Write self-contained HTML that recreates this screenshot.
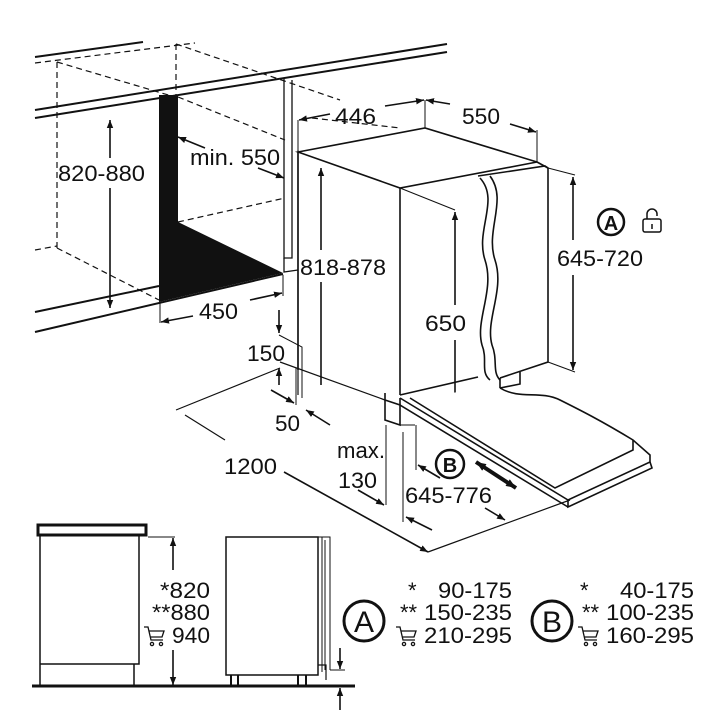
<!DOCTYPE html>
<html><head><meta charset="utf-8"><style>
html,body{margin:0;padding:0;background:#fff;width:720px;height:720px;overflow:hidden}
svg{display:block}
text{font-family:"Liberation Sans",sans-serif;fill:#111}
</style></head><body>
<svg width="720" height="720" viewBox="0 0 720 720" xmlns="http://www.w3.org/2000/svg">
<defs>
<marker id="a" viewBox="0 0 10 10" refX="10" refY="5" markerWidth="8" markerHeight="8" orient="auto-start-reverse" markerUnits="userSpaceOnUse"><path d="M0,1 L10,5 L0,9 z" fill="#111"/></marker>
<marker id="b" viewBox="0 0 10 10" refX="10" refY="5" markerWidth="10" markerHeight="10" orient="auto-start-reverse" markerUnits="userSpaceOnUse"><path d="M0,1 L10,5 L0,9 z" fill="#111"/></marker>
</defs>
<g stroke="#111" fill="none" stroke-width="1.6">
<line x1="35" y1="57" x2="143" y2="42" stroke-width="2"/>
<line x1="35" y1="110" x2="447" y2="44" stroke-width="2"/>
<line x1="35" y1="118" x2="447" y2="52" stroke-width="2"/>
<line x1="35" y1="312" x2="159" y2="286" stroke-width="2"/>
<line x1="35" y1="332" x2="283" y2="274" stroke-width="2"/>
<g stroke-dasharray="6,4" stroke-width="1.2">
<line x1="35" y1="63" x2="195" y2="43"/>
<line x1="57" y1="62" x2="57" y2="248"/>
<line x1="35" y1="250" x2="57" y2="246"/>
<line x1="57" y1="62" x2="175" y2="97"/>
<line x1="57" y1="248" x2="159" y2="300"/>
<line x1="176" y1="44" x2="176" y2="95"/>
<line x1="176" y1="44" x2="340" y2="100"/>
<line x1="178" y1="97" x2="285" y2="140"/>
<line x1="178" y1="222" x2="285" y2="198"/>
<line x1="312" y1="118" x2="400" y2="128"/>
</g>
<path d="M284,78 L284,258 L292,258 L292,80" stroke-width="1.3"/>
<path d="M284,258 L284,272 L298,270" stroke-width="1.3"/>
<line x1="110" y1="120" x2="110" y2="158" marker-start="url(#a)"/>
<line x1="110" y1="188" x2="110" y2="308" marker-end="url(#a)"/>
<line x1="178" y1="137" x2="205" y2="148" marker-start="url(#a)"/>
<line x1="258" y1="168" x2="284" y2="178" marker-end="url(#a)"/>
<path d="M160,302 L160,323 M283,275 L283,296" stroke-width="1"/>
<line x1="193" y1="316" x2="161" y2="322" marker-end="url(#a)"/>
<line x1="250" y1="300" x2="282" y2="293" marker-end="url(#a)"/>
<path d="M298,150 L298,395" stroke-width="1.2"/>
<line x1="321" y1="250" x2="321" y2="168" marker-end="url(#a)"/>
<line x1="321" y1="282" x2="321" y2="385" />
<line x1="298" y1="120" x2="298" y2="150" stroke-width="1"/>
<line x1="425" y1="100" x2="425" y2="128" stroke-width="1"/>
<line x1="537" y1="130" x2="537" y2="162" stroke-width="1"/>
<line x1="330" y1="114" x2="299" y2="120" marker-end="url(#a)"/>
<line x1="385" y1="106" x2="424" y2="100" marker-end="url(#a)"/>
<line x1="450" y1="104" x2="426" y2="100" marker-end="url(#a)"/>
<line x1="510" y1="124" x2="536" y2="132" marker-end="url(#a)"/>
<path d="M298,152 L425,128 L537,162 L400,188 Z" fill="#fff"/>
<path d="M400,188 L400,395"/>
<path d="M298,152 L298,370"/>
<path d="M400,395 L478,377"/>
<path d="M478,176 L545,166 L548,168 L548,362 L500,378"/>
<path d="M537,162 L548,168"/>
<path d="M480,178 C500,200 475,230 485,260 C495,290 475,320 482,345 C488,360 480,372 490,380" />
<path d="M490,176 C508,200 485,230 495,260 C505,290 485,320 492,345 C498,360 492,372 500,380" />
<path d="M500,378 L500,388 L520,384 L520,372"/>
<path d="M400,188 L455,210" stroke-width="1"/>
<line x1="455" y1="305" x2="455" y2="212" marker-end="url(#a)"/>
<line x1="455" y1="340" x2="455" y2="420" marker-end="url(#a)"/>
<path d="M548,168 L575,175 M548,362 L575,372" stroke-width="1"/>
<line x1="573" y1="240" x2="573" y2="177" marker-end="url(#a)"/>
<line x1="573" y1="275" x2="573" y2="370" marker-end="url(#a)"/>
<path d="M400,398 L568,500 L650,462 L650,455 L633,440 C600,420 580,410 560,400 C540,390 520,400 500,388" fill="#fff"/>
<path d="M400,398 L400,405 L568,507"/>
<path d="M568,500 L568,507 L652,468 L650,462"/>
<path d="M410,398 L555,488 L633,450 L633,440"/>
<path d="M385,393 L385,420 L400,425 L400,405 L385,400" fill="#fff"/>
<path d="M280,362 L385,400" stroke-width="1.2"/>
<path d="M176,410 L280,368" stroke-width="1.2"/>
<path d="M400,425 L415,425" stroke-width="1"/>
<line x1="279" y1="310" x2="279" y2="333" marker-end="url(#a)"/>
<path d="M279,335 L302,347 L302,398" stroke-width="1"/>
<line x1="279" y1="385" x2="279" y2="368" marker-end="url(#a)"/>
<path d="M296,368 L296,405" stroke-width="1"/>
<line x1="271" y1="390" x2="294" y2="403" marker-end="url(#a)"/>
<line x1="330" y1="425" x2="306" y2="410" marker-end="url(#a)"/>
<path d="M386,425 L386,505" stroke-width="1"/>
<line x1="358" y1="490" x2="384" y2="505" marker-end="url(#a)"/>
<path d="M403,432 L403,522" stroke-width="1"/>
<line x1="432" y1="530" x2="406" y2="517" marker-end="url(#a)"/>
<path d="M416,425 L416,470" stroke-width="1"/>
<line x1="440" y1="478" x2="418" y2="465" marker-end="url(#a)"/>
<line x1="485" y1="508" x2="505" y2="520" marker-end="url(#a)"/>
<line x1="185" y1="415" x2="225" y2="440" stroke-width="1.2"/>
<line x1="284" y1="472" x2="428" y2="552" marker-end="url(#a)"/>
<line x1="428" y1="552" x2="570" y2="500" stroke-width="1.2"/>
<line x1="476" y1="462" x2="516" y2="488" stroke-width="4" marker-start="url(#b)" marker-end="url(#b)"/>
<circle cx="611" cy="222" r="13" stroke-width="2.5"/>
<circle cx="450" cy="464" r="14" stroke-width="2.5"/>
<rect x="643" y="219" width="18" height="13" rx="2" stroke-width="1.5"/>
<path d="M647,219 L647,214 A5,5 0 0 1 657,214 L657,216" stroke-width="1.5"/>
<path d="M652,224 L652,229" stroke-width="1.5"/>
<rect x="38" y="525" width="108" height="10" stroke-width="3"/>
<path d="M40,535 L40,686 M139,535 L139,664 L40,664 M134,664 L134,686" stroke-width="1.5"/>
<line x1="32" y1="686" x2="355" y2="686" stroke-width="3"/>
<path d="M148,537 L175,537" stroke-width="1"/>
<line x1="173" y1="570" x2="173" y2="538" marker-end="url(#a)"/>
<line x1="173" y1="650" x2="173" y2="685" marker-end="url(#a)"/>
<rect x="226" y="537" width="92" height="138" stroke-width="1.5"/>
<path d="M318,537 L330,537 L330,670 M322,537 L322,672 M325,540 L325,670" stroke-width="1"/>
<path d="M318,665 L326,665 L326,680" stroke-width="1.2"/>
<path d="M231,675 L231,686 M238,675 L238,686 M298,675 L298,686 M306,675 L306,686" stroke-width="2"/>
<path d="M330,670 L345,670" stroke-width="1"/>
<line x1="340" y1="648" x2="340" y2="669" marker-end="url(#a)"/>
<line x1="340" y1="710" x2="340" y2="688" marker-end="url(#a)"/>
<circle cx="364" cy="621" r="20" stroke-width="3"/>
<circle cx="552" cy="621" r="20" stroke-width="3"/>
</g>
<polygon points="159,95 178,95 178,222 283,273 159,302" fill="#111"/>
<g font-size="22" lengthAdjust="spacingAndGlyphs">
<text x="58" y="181" textLength="87" lengthAdjust="spacingAndGlyphs">820-880</text>
<text x="190" y="165" textLength="90" lengthAdjust="spacingAndGlyphs">min. 550</text>
<text x="199" y="319" textLength="39" lengthAdjust="spacingAndGlyphs">450</text>
<text x="300" y="275" textLength="86" lengthAdjust="spacingAndGlyphs">818-878</text>
<text x="335" y="124" textLength="41" lengthAdjust="spacingAndGlyphs">446</text>
<text x="462" y="124" textLength="38" lengthAdjust="spacingAndGlyphs">550</text>
<text x="557" y="266" textLength="86" lengthAdjust="spacingAndGlyphs">645-720</text>
<text x="425" y="331" textLength="41" lengthAdjust="spacingAndGlyphs">650</text>
<text x="247" y="361" textLength="38" lengthAdjust="spacingAndGlyphs">150</text>
<text x="275" y="431" textLength="25" lengthAdjust="spacingAndGlyphs">50</text>
<text x="224" y="474" textLength="53" lengthAdjust="spacingAndGlyphs">1200</text>
<text x="337" y="458" textLength="48" lengthAdjust="spacingAndGlyphs">max.</text>
<text x="338" y="488" textLength="39" lengthAdjust="spacingAndGlyphs">130</text>
<text x="405" y="503" textLength="87" lengthAdjust="spacingAndGlyphs">645-776</text>
<text x="611" y="230" font-size="20" font-weight="bold" text-anchor="middle">A</text>
<text x="450" y="472" font-size="20" font-weight="bold" text-anchor="middle">B</text>
</g>
<g font-size="22">
<text x="160" y="598" textLength="50" lengthAdjust="spacingAndGlyphs">*820</text>
<text x="152" y="620" textLength="58" lengthAdjust="spacingAndGlyphs">**880</text>
<text x="172" y="643" textLength="38" lengthAdjust="spacingAndGlyphs">940</text>
<text x="364" y="632" font-size="30" text-anchor="middle">A</text>
<text x="552" y="632" font-size="30" text-anchor="middle">B</text>
<text x="408" y="598">*</text>
<text x="438" y="598" textLength="74" lengthAdjust="spacingAndGlyphs">90-175</text>
<text x="400" y="620">**</text>
<text x="424" y="620" textLength="88" lengthAdjust="spacingAndGlyphs">150-235</text>
<text x="424" y="643" textLength="88" lengthAdjust="spacingAndGlyphs">210-295</text>
<text x="580" y="598">*</text>
<text x="620" y="598" textLength="74" lengthAdjust="spacingAndGlyphs">40-175</text>
<text x="582" y="620">**</text>
<text x="606" y="620" textLength="88" lengthAdjust="spacingAndGlyphs">100-235</text>
<text x="606" y="643" textLength="88" lengthAdjust="spacingAndGlyphs">160-295</text>
</g>
<g stroke="#111" fill="none" stroke-width="1.3">
<path d="M144,627 L148,627 L151,640 L163,640 M149,631 L164,631 L162,637 L150,637"/><circle cx="152" cy="644" r="1.6"/><circle cx="161" cy="644" r="1.6"/>
<path d="M396,627 L400,627 L403,640 L415,640 M401,631 L416,631 L414,637 L402,637"/><circle cx="404" cy="644" r="1.6"/><circle cx="413" cy="644" r="1.6"/>
<path d="M578,627 L582,627 L585,640 L597,640 M583,631 L598,631 L596,637 L584,637"/><circle cx="586" cy="644" r="1.6"/><circle cx="595" cy="644" r="1.6"/>
</g>
</svg>
</body></html>
